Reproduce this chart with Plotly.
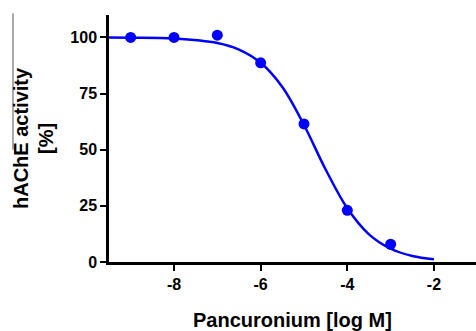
import plotly.graph_objects as go

# Measured data points (log M, % activity)
log_conc = [-9, -8, -7, -6, -5, -4, -3]
activity = [100, 100, 101, 88.7, 61.5, 23.0, 7.9]

# Fitted curve
curve_x = [-9.5, -9, -8, -7, -6.5, -6, -5.5, -5, -4.5, -4, -3.5, -3, -2.5, -2]
curve_y = [100, 99.9, 99.5, 97.5, 94.6, 88.7, 77.9, 61.0, 41.2, 23.9, 12.3, 5.9, 2.7, 1.2]

x_ticks = [-8, -6, -4, -2]
y_ticks = [0, 25, 50, 75, 100]

blue = "#0000FF"
font_family = "Liberation Sans, Arial, sans-serif"
title_font = dict(size=20, weight="bold", family=font_family, color="black")

fig = go.Figure()
fig.add_trace(go.Scatter(x=curve_x, y=curve_y, mode="lines",
                         line=dict(color=blue, width=2.5, shape="spline"),
                         hoverinfo="skip", showlegend=False))
fig.add_trace(go.Scatter(x=log_conc, y=activity, mode="markers",
                         marker=dict(color=blue, size=11),
                         showlegend=False, cliponaxis=False))

fig.update_layout(
    width=476, height=331,
    margin=dict(l=109, r=0, t=15, b=69, autoexpand=False),
    paper_bgcolor="white", plot_bgcolor="white",
    font=dict(family=font_family, color="black"),
    xaxis=dict(range=[-9.5, -1.03], tickvals=x_ticks, ticktext=[str(v) for v in x_ticks],
               automargin=False,
               showgrid=False, zeroline=False, showline=True, linecolor="black", linewidth=2.5,
               ticks="outside", ticklen=6, tickwidth=2, tickcolor="black",
               tickfont=dict(size=16, weight="bold", family=font_family)),
    yaxis=dict(range=[0, 110], tickvals=y_ticks, ticktext=[str(v) for v in y_ticks],
               automargin=False,
               showgrid=False, zeroline=False, showline=True, linecolor="black", linewidth=2.5,
               ticks="outside", ticklen=6, tickwidth=2, tickcolor="black",
               tickfont=dict(size=16, weight="bold", family=font_family)),
    annotations=[
        dict(text="hAChE activity", xref="paper", yref="paper", x=0, y=0.5,
             xanchor="center", yanchor="middle", xshift=-88.5, textangle=-90, showarrow=False,
             font=title_font),
        dict(text="[%]", xref="paper", yref="paper", x=0, y=0.5,
             xanchor="center", yanchor="middle", xshift=-63.5, textangle=-90, showarrow=False,
             font=title_font),
        dict(text="Pancuronium [log M]", xref="paper", yref="paper", x=0.5, y=0,
             xanchor="center", yanchor="middle", yshift=-58, showarrow=False,
             font=title_font),
    ],
    shapes=[dict(type="line", xref="paper", yref="paper",
                 x0=-0.2616, x1=-0.2616, y0=1.0065, y1=0.455,
                 line=dict(color="#555555", width=1))],
)

fig.write_html("out.html", config={"displayModeBar": False})

# remove the browser's default page margin so the figure sits at the top-left corner
with open("out.html", "r", encoding="utf-8") as f:
    html = f.read()
html = html.replace("<head>", "<head><style>html,body{margin:0;padding:0;overflow:hidden;}</style>", 1)
with open("out.html", "w", encoding="utf-8") as f:
    f.write(html)
